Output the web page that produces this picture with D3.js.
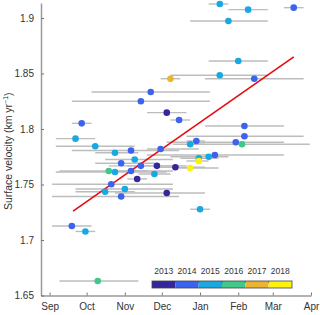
<!DOCTYPE html>
<html>
<head>
<meta charset="utf-8">
<script src="https://d3js.org/d3.v7.min.js"></script>
<style>
  body { margin: 0; background: #fff; }
  text { font-family: "Liberation Sans", Arial, sans-serif; fill: #333; }
</style>
</head>
<body>
<script>
// mid-point dates, velocities, year of each measurement and the period covered
var dates = ['Jan 17','Feb 9','Mar 18','Jan 24','Feb 1','Jan 17','Dec 8','Feb 14','Nov 22','Nov 14',
  'Dec 5','Dec 15','Sep 27','Feb 6','Feb 6','Sep 22','Dec 29','Jan 30','Feb 4','Dec 24',
  'Oct 8','Nov 30','Nov 6','Oct 24','Jan 13','Jan 8','Dec 31','Dec 31','Nov 9','Oct 29',
  'Nov 14','Nov 27','Dec 12','Dec 24','Oct 19','Oct 24','Nov 6','Nov 25','Nov 11','Oct 21',
  'Nov 1','Oct 16','Dec 5','Oct 29','Jan 1','Sep 19','Sep 30','Oct 10'];
var velocity = [1.9126,1.9075,1.9093,1.8973,1.8613,1.8484,1.8453,1.8453,1.8333,1.825,
  1.8147,1.8081,1.8051,1.8027,1.7934,1.7913,1.7892,1.788,1.7862,1.7862,
  1.7844,1.782,1.7806,1.7786,1.7766,1.775,1.7736,1.7712,1.7725,1.7691,
  1.7668,1.7668,1.7655,1.7649,1.7622,1.7613,1.7622,1.7595,1.755,1.7502,
  1.7459,1.7435,1.7423,1.7392,1.7277,1.7126,1.7077,1.6631];
var years = [2015,2015,2014,2015,2015,2015,2017,2014,2014,2014,
  2013,2014,2014,2014,2014,2015,2014,2014,2016,2015,
  2015,2014,2014,2015,2014,2015,2015,2018,2015,2014,
  2014,2013,2013,2018,2016,2015,2014,2015,2013,2014,
  2015,2015,2013,2014,2015,2014,2015,2016];
var startDates = ['Jan 8','Jan 24','Mar 10','Dec 24','Jan 8','Dec 8','Nov 30','Jan 5','Oct 5','Sep 19',
  'Nov 19','Dec 8','Sep 19','Jan 5','Dec 21','Sep 6','Dec 21','Dec 5','Dec 24','Dec 10',
  'Sep 6','Nov 19','Sep 19','Oct 8','Nov 19','Dec 8','Dec 16','Dec 21','Oct 16','Oct 8',
  'Oct 19','Nov 3','Nov 25','Dec 15','Sep 9','Sep 6','Oct 16','Nov 12','Nov 3','Sep 3',
  'Sep 22','Sep 22','Oct 24','Sep 3','Dec 24','Sep 3','Sep 22','Sep 9'];
var endDates = ['Jan 24','Feb 25','Mar 26','Feb 25','Feb 25','Feb 25','Dec 16','Mar 26','Jan 9','Jan 9',
  'Dec 21','Dec 24','Oct 5','Mar 10','Mar 26','Oct 8','Jan 5','Mar 10','Mar 31','Jan 5',
  'Nov 9','Dec 31','Dec 15','Nov 12','Mar 10','Jan 24','Jan 16','Jan 8','Dec 10','Nov 25',
  'Dec 15','Dec 21','Jan 5','Jan 16','Nov 19','Dec 5','Dec 10','Dec 8','Nov 19','Dec 10',
  'Dec 10','Nov 9','Jan 5','Dec 15','Jan 9','Oct 5','Oct 8','Nov 12'];

var trendDates = ['Sep 20', 'Mar 18'];
var trendValues = [1.726, 1.865];

var legendYears = [2013, 2014, 2015, 2016, 2017, 2018];
var legendColors = ['#33279b', '#3b63f0', '#18a8e2', '#3ec98a', '#eab330', '#fbf30f'];
var monthTicks = ['Sep 1','Oct 1','Nov 1','Dec 1','Jan 1','Feb 1','Mar 1','Apr 1'];
var velTicks = [1.65, 1.7, 1.75, 1.8, 1.85, 1.9];

var width = 320, height = 315;
var margin = {top: 3, right: 9, bottom: 19.5, left: 41};

// season runs Sep -> Apr, so Sep-Dec go in the first year
var parseDay = d3.timeParse('%b %d %Y');
function toDate(s) {
	var m = s.split(' ')[0];
	var yr = ['Aug','Sep','Oct','Nov','Dec'].indexOf(m) >= 0 ? 2013 : 2014;
	return parseDay(s + ' ' + yr);
}

var data = dates.map(function(d, i) {
	return {date: toDate(d), v: velocity[i], year: years[i],
		start: toDate(startDates[i]), end: toDate(endDates[i])};
});

var x = d3.scaleTime()
	.domain([toDate('Aug 25'), toDate('Apr 1')])
	.range([margin.left, width - margin.right]);

var y = d3.scaleLinear()
	.domain([1.65, 1.9135])
	.range([height - margin.bottom, margin.top]);

var color = d3.scaleOrdinal().domain(legendYears).range(legendColors);

var svg = d3.select('body').append('svg')
	.attr('width', width)
	.attr('height', height);

// error bars
svg.append('g').selectAll('line')
	.data(data)
	.enter().append('line')
	.attr('x1', function(d) { return x(d.start); })
	.attr('x2', function(d) { return x(d.end); })
	.attr('y1', function(d) { return y(d.v); })
	.attr('y2', function(d) { return y(d.v); })
	.attr('stroke', '#bdbdbd')
	.attr('stroke-width', 1.4);

// trend line
svg.append('line')
	.attr('x1', x(toDate(trendDates[0])))
	.attr('y1', y(trendValues[0]))
	.attr('x2', x(toDate(trendDates[1])))
	.attr('y2', y(trendValues[1]))
	.attr('stroke', '#e8090f')
	.attr('stroke-width', 1.6);

svg.append('g').selectAll('circle')
	.data(data)
	.enter().append('circle')
	.attr('cx', function(d) { return x(d.date); })
	.attr('cy', function(d) { return y(d.v); })
	.attr('r', 3.3)
	.attr('fill', function(d) { return color(d.year); });

// axes, ticks inward
var xAxis = svg.append('g')
	.attr('transform', 'translate(0,' + (height - margin.bottom) + ')')
	.call(d3.axisBottom(x)
		.tickValues(monthTicks.map(toDate))
		.tickFormat(d3.timeFormat('%b'))
		.tickSizeInner(-3).tickSizeOuter(0).tickPadding(7));

var yAxis = svg.append('g')
	.attr('transform', 'translate(' + margin.left + ',0)')
	.call(d3.axisLeft(y)
		.tickValues(velTicks)
		.tickFormat(d3.format('~g'))
		.tickSizeInner(-3).tickSizeOuter(0).tickPadding(7));

[xAxis, yAxis].forEach(function(g) {
	g.select('.domain').attr('stroke', '#9a9a9a').attr('stroke-width', 1.5);
	g.selectAll('.tick line').attr('stroke', '#777');
	g.selectAll('.tick text').attr('font-size', 10).attr('fill', '#333')
		.attr('font-family', '"Liberation Sans", Arial, sans-serif');
});

svg.append('text')
	.attr('transform', 'translate(12,' + ((margin.top + height - margin.bottom) / 2 + 2) + ') rotate(-90)')
	.attr('text-anchor', 'middle')
	.attr('font-size', 10.5)
	.html('Surface velocity (km yr<tspan dy="-4" font-size="7">−1</tspan><tspan dy="4">)</tspan>');

// colour bar legend
var legend = svg.append('g');
var lx = d3.scaleBand().domain(legendYears).range([152, 292]);

legend.selectAll('rect')
	.data(legendYears)
	.enter().append('rect')
	.attr('x', function(d) { return lx(d); })
	.attr('y', 281)
	.attr('width', lx.bandwidth())
	.attr('height', 7)
	.attr('fill', function(d) { return color(d); });

legend.append('rect')
	.attr('x', 152).attr('y', 281)
	.attr('width', 140).attr('height', 7)
	.attr('fill', 'none')
	.attr('stroke', '#444')
	.attr('stroke-width', 0.8);

legend.selectAll('line.tk')
	.data(legendYears.slice(1))
	.enter().append('line')
	.attr('x1', function(d) { return lx(d); })
	.attr('x2', function(d) { return lx(d); })
	.attr('y1', 281).attr('y2', 283)
	.attr('stroke', '#444').attr('stroke-width', 0.6);

legend.selectAll('text')
	.data(legendYears)
	.enter().append('text')
	.attr('x', function(d) { return lx(d) + lx.bandwidth() / 2; })
	.attr('y', 274)
	.attr('text-anchor', 'middle')
	.attr('font-size', 8.5)
	.text(function(d) { return d; });
</script>
</body>
</html>
